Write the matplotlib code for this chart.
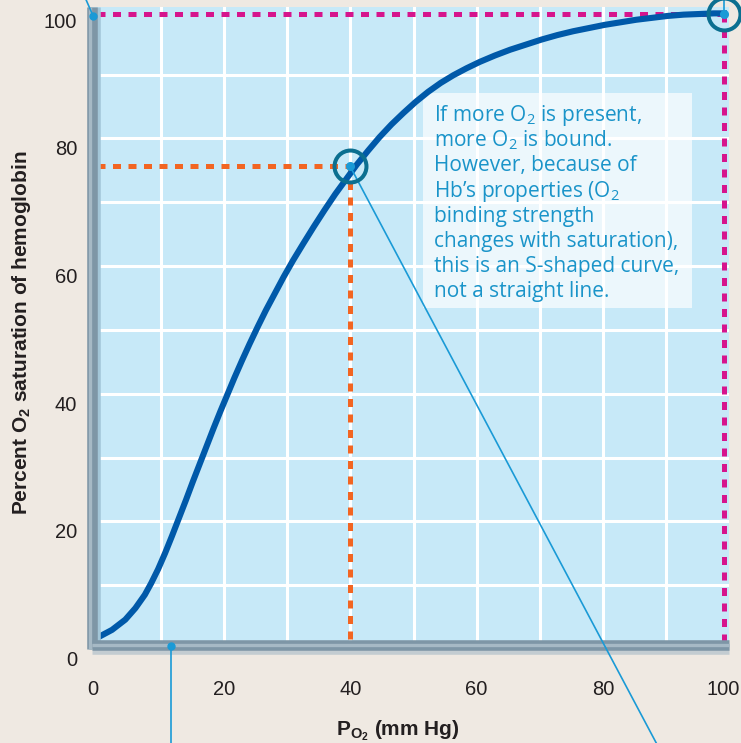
import numpy as np
import matplotlib.pyplot as plt
import matplotlib.transforms as mtransforms
import matplotlib.patheffects as pe
from matplotlib.patches import Rectangle

plt.rcParams['font.family'] = ['Liberation Sans', 'DejaVu Sans']
plt.rcParams['mathtext.fontset'] = 'custom'
plt.rcParams['mathtext.rm'] = 'Open Sans'
plt.rcParams['mathtext.bf'] = 'Liberation Sans:bold'

# O2 dissociation curve
po2 = [0.3, 2.2, 4.3, 5.9, 7.4, 8.4, 9.5, 10.6, 11.7, 12.8,
       13.9, 15.0, 16.1, 17.2, 18.3, 19.4, 20.5, 21.6, 22.8, 24.0,
       25.3, 26.6, 28.0, 29.4, 30.9, 32.5, 34.2, 35.9, 37.6, 39.3,
       41.0, 42.8, 44.6, 46.5, 48.4, 50.3, 52.3, 54.3, 56.3, 58.4,
       60.5, 62.9, 65.3, 67.8, 70.3, 72.8, 75.3, 77.8, 80.3, 82.8,
       85.3, 87.8, 90.3, 92.8, 95.3, 97.6, 99.2]
sat = [2.0, 3.0, 4.6, 6.4, 8.5, 10.3, 12.5, 15.0, 17.7, 20.5,
       23.3, 26.2, 29.0, 31.8, 34.6, 37.3, 39.9, 42.5, 45.2, 47.8,
       50.5, 53.1, 55.7, 58.3, 60.9, 63.5, 66.2, 68.8, 71.3, 73.6,
       75.9, 78.1, 80.2, 82.2, 84.0, 85.7, 87.3, 88.7, 89.9, 91.0,
       92.0, 93.0, 93.9, 94.7, 95.5, 96.2, 96.8, 97.3, 97.8, 98.2,
       98.6, 98.9, 99.2, 99.4, 99.5, 99.6, 99.6]

# marked points: tissue (40 mm Hg) and lungs (100 mm Hg)
tissue = (39.9, 75.7)
lungs = (99.2, 99.5)

ticks = [0, 20, 40, 60, 80, 100]
grid_lines = [10, 20, 30, 40, 50, 60, 70, 80, 90]

note_lines = [
    "If more O$_2$ is present,",
    "more O$_2$ is bound.",
    "However, because of",
    "Hb\u2019s properties (O$_2$",
    "binding strength",
    "changes with saturation),",
    "this is an S-shaped curve,",
    "not a straight line.",
]

bg = '#efe9e2'
blue_bg = '#c7e9f8'
curve_col = '#0059a9'
ring_col = '#0b6f90'
lead_col = '#1a9ad6'
text_col = '#1a94c9'

fig = plt.figure(figsize=(7.41, 7.43), dpi=100, facecolor=bg)
ax = fig.add_axes([0.1248, 0.1265, 0.8590, 0.8641])
ax.set_facecolor(blue_bg)
ax.set_xlim(-0.9, 100)
ax.set_ylim(0, 100.6)

# thick grey "3D" axis bars
for s in ('top', 'right'):
    ax.spines[s].set_visible(False)
ax.spines['bottom'].set_position(('data', 0.6))
for s, off, sh, shc in (('left', (-1.6, 0), (2.0, 0), '#a3c6d8'),
                        ('bottom', (0, 0.4), (0, -2.5), '#c3ccd1')):
    sp = ax.spines[s]
    sp.set_linewidth(7.6)
    sp.set_color('#7e96a6')
    sp.set_capstyle('butt')
    sp.set_zorder(5)
    sp.set_path_effects([
        pe.Stroke(linewidth=7.6, foreground=shc, offset=sh),
        pe.Normal(),
        pe.Stroke(linewidth=2.4, foreground='#a6b9c5', offset=off),
    ])

# grid every 10 (minor), labels every 20
ax.set_xticks(ticks)
ax.set_yticks(ticks)
ax.set_xticks(grid_lines, minor=True)
ax.set_yticks(grid_lines, minor=True)
ax.xaxis.remove_overlapping_locs = False
ax.yaxis.remove_overlapping_locs = False
ax.grid(which='minor', color='white', lw=2.2)
ax.grid(which='major', visible=False)
ax.set_axisbelow(True)
ax.tick_params(which='both', length=0)
ax.tick_params(axis='x', pad=25, labelsize=14.5, labelcolor='#231f20')
ax.tick_params(axis='y', pad=11, labelsize=14.5, labelcolor='#231f20')

down = mtransforms.ScaledTranslation(0, -0.095, fig.dpi_scale_trans)
for lab in ax.get_yticklabels():
    lab.set_transform(lab.get_transform() + down)
left = mtransforms.ScaledTranslation(-0.055, 0, fig.dpi_scale_trans)
xl = ax.get_xticklabels()
for lab in (xl[0], xl[-1]):
    lab.set_transform(lab.get_transform() + left)

# note box
ax.add_patch(Rectangle((51.5, 53.4), 42.6, 33.8, facecolor='white', alpha=0.68,
                       edgecolor='none', zorder=1.5))
for i, line in enumerate(note_lines):
    ax.annotate(line, xy=(53.2, 82.7), xytext=(0, -18.07 * i),
                textcoords='offset points', family='Open Sans', fontsize=15,
                color=text_col, va='baseline', ha='left', zorder=3)

# dashed guide lines
dash = (0, (1.6, 1.5))
ax.plot([-0.2, tissue[0]], [tissue[1], tissue[1]], color='#f26522', lw=3.6,
        ls=dash, zorder=2.5)
ax.plot([tissue[0], tissue[0]], [tissue[1], 0.6], color='#f26522', lw=3.6,
        ls=dash, zorder=2.5)
ax.plot([-0.2, lungs[0]], [lungs[1], lungs[1]], color='#d6158d', lw=3.6,
        ls=dash, zorder=2.5, clip_on=False)
ax.plot([lungs[0], lungs[0]], [lungs[1], 0.6], color='#d6158d', lw=3.6,
        ls=dash, zorder=2.5, clip_on=False)

# the curve
ax.plot(po2, sat, color=curve_col, lw=4.4, zorder=4, solid_joinstyle='round')

# leader lines to labels outside the picture
ax.plot([tissue[0], 89.1], [tissue[1], -15.9], color=lead_col, lw=1.2,
        clip_on=False, zorder=6)
ax.plot([lungs[0], lungs[0]], [lungs[1], 104], color=lead_col, lw=1.2,
        clip_on=False, zorder=6)
ax.plot([-0.8, -2.3], [99.2, 102.6], color=lead_col, lw=1.2, clip_on=False, zorder=6)
ax.plot([11.6, 11.6], [0.5, -18], color=lead_col, lw=1.2, clip_on=False, zorder=6)
ax.plot([-0.8, 11.6], [99.2, 0.5], 'o', ms=5, color=lead_col, clip_on=False, zorder=7)

# circled points
for px, py in (tissue, lungs):
    ax.plot(px, py, 'o', ms=23, mfc='none', mec=ring_col, mew=2.9,
            clip_on=False, zorder=7)
    ax.plot(px, py, 'o', ms=5.5, color=lead_col, clip_on=False, zorder=8)

ax.set_xlabel(r'$\mathbf{P_{O_2}}$ (mm Hg)', fontsize=15, fontweight='bold',
              color='#231f20', va='center')
ax.xaxis.set_label_coords(0.48, -0.127)
ax.set_ylabel(r'Percent O$_\mathbf{2}$ saturation of hemoglobin', fontsize=15,
              fontweight='bold', color='#231f20', va='center')
ax.yaxis.set_label_coords(-0.112, 0.492)

fig.savefig('out.png', dpi=100, facecolor=bg)
